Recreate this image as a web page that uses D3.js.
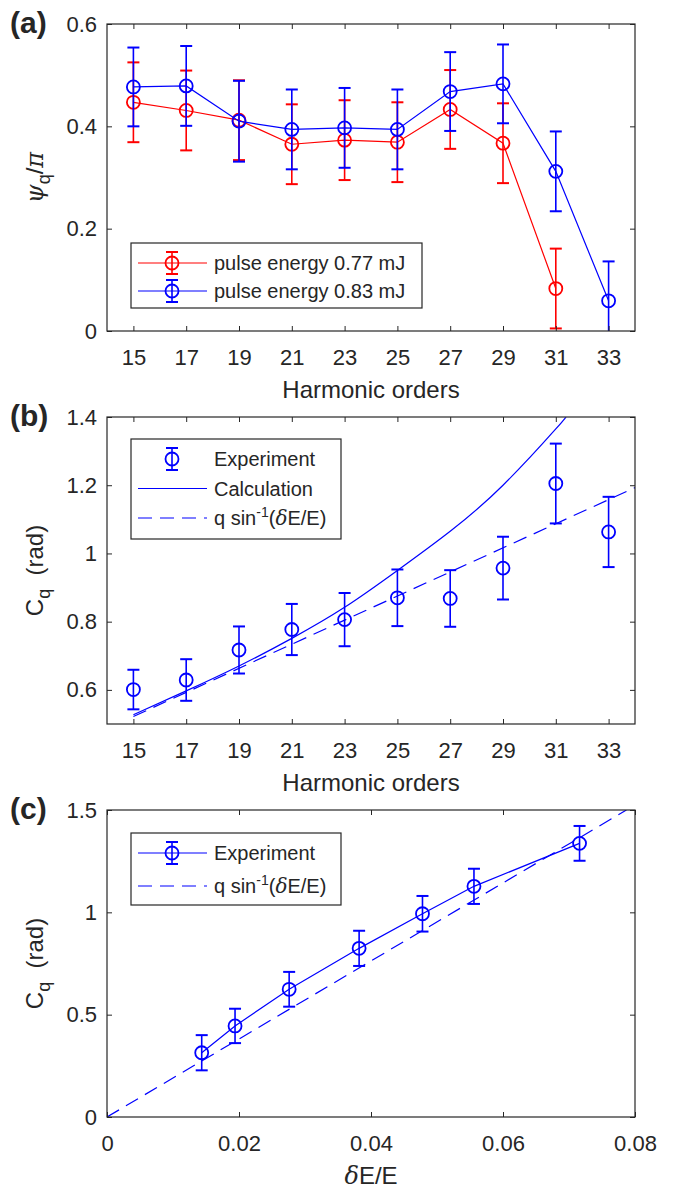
<!DOCTYPE html>
<html>
<head>
<meta charset="utf-8">
<script src="https://cdn.jsdelivr.net/npm/d3@7"></script>
<style>
  body { margin: 0; background: #fff; }
  text { font-family: "Liberation Sans", Arial, Helvetica, sans-serif; fill: #262626; }
</style>
</head>
<body>
<svg id="chart" width="682" height="1193"></svg>
<script>
// ---- data ----
// harmonic orders (panels a and b)
const orders = [15, 17, 19, 21, 23, 25, 27, 29, 31, 33];

// (a) psi_q / pi
const psiRed = [0.447, 0.431, 0.412, 0.365, 0.373, 0.369, 0.433, 0.367, 0.083];
const psiRedErr = [0.078, 0.078, 0.078, 0.078, 0.078, 0.078, 0.077, 0.078, 0.078];
const psiBlue = [0.477, 0.479, 0.410, 0.394, 0.397, 0.394, 0.468, 0.483, 0.312, 0.059];
const psiBlueErr = [0.077, 0.078, 0.079, 0.078, 0.078, 0.078, 0.077, 0.077, 0.078, 0.077];

// (b) C_q vs harmonic order
const cqExp = [0.601, 0.629, 0.717, 0.777, 0.806, 0.870, 0.868, 0.957, 1.205, 1.063];
const cqExpErr = [0.058, 0.061, 0.069, 0.075, 0.078, 0.083, 0.083, 0.092, 0.117, 0.103];
const calcOrders = [15, 17, 19, 21, 23, 25, 27, 29, 31, 31.37];
const calcCq = [0.527, 0.597, 0.670, 0.751, 0.842, 0.950, 1.065, 1.200, 1.365, 1.40];
const asinOrders = [15, 34];
const asinCq = [0.522, 1.193];

// (c) C_q vs dE/E
const dE = [0.01435, 0.0194, 0.0276, 0.0382, 0.0478, 0.0556, 0.0716];
const cqC = [0.314, 0.445, 0.624, 0.824, 0.993, 1.127, 1.337];
const cqCErr = [0.086, 0.084, 0.085, 0.086, 0.087, 0.086, 0.085];
const asinDE = [0, 0.0787];
const asinCqC = [0, 1.5];

// ticks
const orderTicks = [15, 17, 19, 21, 23, 25, 27, 29, 31, 33];
const aYTicks = [0, 0.2, 0.4, 0.6];
const bYTicks = [0.6, 0.8, 1, 1.2, 1.4];
const cXTicks = [0, 0.02, 0.04, 0.06, 0.08];
const cYTicks = [0, 0.5, 1, 1.5];

const BLUE = '#0000ff', RED = '#ff0000', INK = '#262626';
const LEFT = 107, RIGHT = 635;

const svg = d3.select('#chart');
const fmt = d3.format('~g');

// axes box with inward ticks on all four sides
function drawFrame(g, x, y, xTicks, yTicks) {
  const [y0, y1] = y.range();
  const [x0, x1] = x.range();

  g.append('g').attr('transform', `translate(0,${y0})`)
    .call(d3.axisBottom(x).tickValues(xTicks).tickSize(-5).tickSizeOuter(0).tickPadding(18).tickFormat(fmt));
  g.append('g').attr('transform', `translate(0,${y1})`)
    .call(d3.axisTop(x).tickValues(xTicks).tickSize(-5).tickSizeOuter(0).tickFormat(''));
  g.append('g').attr('transform', `translate(${x0},0)`)
    .call(d3.axisLeft(y).tickValues(yTicks).tickSize(-5).tickSizeOuter(0).tickPadding(10).tickFormat(fmt));
  g.append('g').attr('transform', `translate(${x1},0)`)
    .call(d3.axisRight(y).tickValues(yTicks).tickSize(-5).tickSizeOuter(0).tickFormat(''));

  g.selectAll('.domain').remove();
  g.selectAll('.tick line').attr('stroke', INK);
  g.selectAll('.tick text').attr('font-size', 22).attr('fill', INK);

  g.append('rect')
    .attr('x', x0).attr('y', y1)
    .attr('width', x1 - x0).attr('height', y0 - y1)
    .attr('fill', 'none').attr('stroke', INK).attr('stroke-width', 1.2);
}

function clipFor(id, x, y) {
  svg.append('clipPath').attr('id', id)
    .append('rect')
    .attr('x', x.range()[0]).attr('y', y.range()[1])
    .attr('width', x.range()[1] - x.range()[0])
    .attr('height', y.range()[0] - y.range()[1]);
}

// markers with error bars (optionally joined by a line)
function errorSeries(g, x, y, xs, ys, errs, color, joined) {
  const pts = ys.map((v, i) => ({ x: xs[i], y: v, e: errs[i] }));
  if (joined) {
    g.append('path')
      .attr('d', d3.line().x(d => x(d.x)).y(d => y(d.y))(pts))
      .attr('fill', 'none').attr('stroke', color).attr('stroke-width', 1.2);
  }
  const bars = g.append('g').attr('stroke', color).attr('stroke-width', 1.6);
  pts.forEach(d => {
    const cx = x(d.x);
    bars.append('line').attr('x1', cx).attr('x2', cx).attr('y1', y(d.y - d.e)).attr('y2', y(d.y + d.e));
    bars.append('line').attr('x1', cx - 6).attr('x2', cx + 6).attr('y1', y(d.y - d.e)).attr('y2', y(d.y - d.e)).attr('stroke-width', 2);
    bars.append('line').attr('x1', cx - 6).attr('x2', cx + 6).attr('y1', y(d.y + d.e)).attr('y2', y(d.y + d.e)).attr('stroke-width', 2);
  });
  g.append('g').selectAll('circle')
    .data(pts)
    .join('circle')
    .attr('cx', d => x(d.x)).attr('cy', d => y(d.y)).attr('r', 6.5)
    .attr('fill', 'none').attr('stroke', color).attr('stroke-width', 1.8);
}

function plainLine(g, x, y, xs, ys, dashed, curved) {
  const line = d3.line().x(d => x(d[0])).y(d => y(d[1]));
  if (curved) line.curve(d3.curveNatural);
  g.append('path')
    .attr('d', line(xs.map((v, i) => [v, ys[i]])))
    .attr('fill', 'none').attr('stroke', BLUE).attr('stroke-width', 1.2)
    .attr('stroke-dasharray', dashed ? '14,8' : null);
}

// legend sample: line from 138 to 207, marker at 172
function legendRow(g, cy, opts, label) {
  if (opts.line) {
    g.append('line').attr('x1', 138).attr('x2', 207).attr('y1', cy).attr('y2', cy)
      .attr('stroke', opts.color).attr('stroke-width', 1.2)
      .attr('stroke-dasharray', opts.line === 'dash' ? '14,8' : null);
  }
  if (opts.marker) {
    const b = g.append('g').attr('stroke', opts.color);
    b.append('line').attr('x1', 172).attr('x2', 172).attr('y1', cy - 11).attr('y2', cy + 11).attr('stroke-width', 1.6);
    b.append('line').attr('x1', 166).attr('x2', 178).attr('y1', cy - 11).attr('y2', cy - 11).attr('stroke-width', 2);
    b.append('line').attr('x1', 166).attr('x2', 178).attr('y1', cy + 11).attr('y2', cy + 11).attr('stroke-width', 2);
    g.append('circle').attr('cx', 172).attr('cy', cy).attr('r', 6.5)
      .attr('fill', 'none').attr('stroke', opts.color).attr('stroke-width', 1.8);
  }
  const t = g.append('text').attr('x', 214).attr('y', cy + 7).attr('font-size', 20);
  label(t);
}

function asinLabel(t) {
  t.append('tspan').text('q sin');
  t.append('tspan').attr('dy', -8).attr('font-size', 14).text('-1');
  t.append('tspan').attr('dy', 8).text('(');
  t.append('tspan').attr('font-style', 'italic').attr('font-family', 'DejaVu Serif, serif').text('δ');
  t.append('tspan').text('E/E)');
}

function cqLabel(g, top, bottom) {
  const t = g.append('text')
    .attr('transform', `translate(43,${(top + bottom) / 2}) rotate(-90)`)
    .attr('text-anchor', 'middle').attr('font-size', 24);
  t.append('tspan').text('C');
  t.append('tspan').attr('dy', 7).attr('font-size', 18).text('q');
  t.append('tspan').attr('dy', -7).text('\u00a0\u00a0(rad)');
}

function panelTag(txt, top) {
  svg.append('text').attr('x', 10).attr('y', top + 9)
    .attr('font-size', 30).attr('font-weight', 'bold').attr('fill', '#000').text(txt);
}

function xTitle(g, bottom, build) {
  const t = g.append('text').attr('x', (LEFT + RIGHT) / 2).attr('y', bottom + 67)
    .attr('text-anchor', 'middle').attr('font-size', 24);
  build(t);
}

// ---------------- panel (a) ----------------
{
  const top = 24, bottom = 331;
  const x = d3.scaleLinear().domain([14, 34]).range([LEFT, RIGHT]);
  const y = d3.scaleLinear().domain([0, 0.6]).range([bottom, top]);
  const g = svg.append('g');
  clipFor('clipA', x, y);
  const data = g.append('g').attr('clip-path', 'url(#clipA)');
  errorSeries(data, x, y, orders, psiRed, psiRedErr, RED, true);
  errorSeries(data, x, y, orders, psiBlue, psiBlueErr, BLUE, true);
  drawFrame(g, x, y, orderTicks, aYTicks);

  const lg = g.append('g');
  lg.append('rect').attr('x', 131).attr('y', 243).attr('width', 291).attr('height', 65)
    .attr('fill', '#fff').attr('stroke', INK).attr('stroke-width', 1.2);
  legendRow(lg, 263, { color: RED, line: 'solid', marker: true }, t => t.text('pulse energy 0.77 mJ'));
  legendRow(lg, 291, { color: BLUE, line: 'solid', marker: true }, t => t.text('pulse energy 0.83 mJ'));

  const yl = g.append('text')
    .attr('transform', `translate(43,${(top + bottom) / 2}) rotate(-90)`)
    .attr('text-anchor', 'middle').attr('font-size', 24);
  yl.append('tspan').attr('font-style', 'italic').attr('font-family', 'DejaVu Serif, serif').text('ψ');
  yl.append('tspan').attr('dy', 7).attr('font-size', 18).text('q');
  yl.append('tspan').attr('dy', -7).text('/');
  yl.append('tspan').attr('font-style', 'italic').attr('font-family', 'DejaVu Serif, serif').text('π');

  xTitle(g, bottom, t => t.text('Harmonic orders'));
  panelTag('(a)', top);
}

// ---------------- panel (b) ----------------
{
  const top = 417, bottom = 724;
  const x = d3.scaleLinear().domain([14, 34]).range([LEFT, RIGHT]);
  const y = d3.scaleLinear().domain([0.5, 1.4]).range([bottom, top]);
  const g = svg.append('g');
  clipFor('clipB', x, y);
  const data = g.append('g').attr('clip-path', 'url(#clipB)');
  plainLine(data, x, y, calcOrders, calcCq, false, true);
  plainLine(data, x, y, asinOrders, asinCq, true, false);
  errorSeries(data, x, y, orders, cqExp, cqExpErr, BLUE, false);
  drawFrame(g, x, y, orderTicks, bYTicks);

  const lg = g.append('g');
  lg.append('rect').attr('x', 131).attr('y', 439).attr('width', 210).attr('height', 100)
    .attr('fill', '#fff').attr('stroke', INK).attr('stroke-width', 1.2);
  legendRow(lg, 459, { color: BLUE, marker: true }, t => t.text('Experiment'));
  legendRow(lg, 488.5, { color: BLUE, line: 'solid' }, t => t.text('Calculation'));
  legendRow(lg, 518, { color: BLUE, line: 'dash' }, asinLabel);

  cqLabel(g, top, bottom);
  xTitle(g, bottom, t => t.text('Harmonic orders'));
  panelTag('(b)', top);
}

// ---------------- panel (c) ----------------
{
  const top = 810, bottom = 1117;
  const x = d3.scaleLinear().domain([0, 0.08]).range([LEFT, RIGHT]);
  const y = d3.scaleLinear().domain([0, 1.5]).range([bottom, top]);
  const g = svg.append('g');
  clipFor('clipC', x, y);
  const data = g.append('g').attr('clip-path', 'url(#clipC)');
  plainLine(data, x, y, asinDE, asinCqC, true, false);
  errorSeries(data, x, y, dE, cqC, cqCErr, BLUE, true);
  drawFrame(g, x, y, cXTicks, cYTicks);

  const lg = g.append('g');
  lg.append('rect').attr('x', 131).attr('y', 833).attr('width', 210).attr('height', 72)
    .attr('fill', '#fff').attr('stroke', INK).attr('stroke-width', 1.2);
  legendRow(lg, 853, { color: BLUE, line: 'solid', marker: true }, t => t.text('Experiment'));
  legendRow(lg, 886, { color: BLUE, line: 'dash' }, asinLabel);

  cqLabel(g, top, bottom);
  xTitle(g, bottom, t => {
    t.append('tspan').attr('font-style', 'italic').attr('font-family', 'DejaVu Serif, serif').text('δ');
    t.append('tspan').text('E/E');
  });
  panelTag('(c)', top);
}
</script>
</body>
</html>
